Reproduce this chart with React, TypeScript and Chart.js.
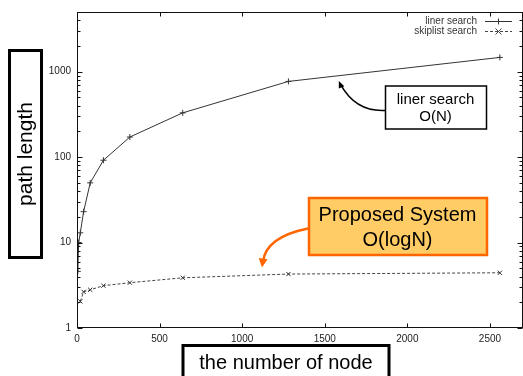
import React, { useEffect, useRef } from "react";
import { Chart, registerables } from "chart.js";

Chart.register(...registerables);

// ---- data ----
const linerNodes = [5, 10, 20, 40, 80, 160, 320, 640, 1280, 2560];
const linerValues = [4.6, 10, 13, 23, 50, 92, 172, 330, 770, 1470];
const skipNodes = [20, 40, 80, 160, 320, 640, 1280, 2560];
const skipValues = [2.05, 2.65, 2.8, 3.13, 3.39, 3.87, 4.28, 4.43];
const seriesLabels = ["liner search", "skiplist search"];
const xTickValues = [0, 500, 1000, 1500, 2000, 2500];
const yDecades = [1, 10, 100, 1000];
const xTitle = "the number of node";
const yTitle = "path length";
const linerNote = ["liner search", "O(N)"];
const proposedNote = ["Proposed System", "O(logN)"];

const FONT = '"Liberation Sans", Arial, Helvetica, sans-serif';

function yTickList(): number[] {
  const out: number[] = [];
  for (const d of yDecades) {
    for (let m = 1; m <= 9; m++) {
      const v = d * m;
      if (v <= 5000) out.push(v);
    }
  }
  return out;
}

function drawMarker(ctx: CanvasRenderingContext2D, x: number, y: number, r: number, rot: boolean) {
  ctx.beginPath();
  if (rot) {
    ctx.moveTo(x - r, y - r);
    ctx.lineTo(x + r, y + r);
    ctx.moveTo(x - r, y + r);
    ctx.lineTo(x + r, y - r);
  } else {
    ctx.moveTo(x - r, y);
    ctx.lineTo(x + r, y);
    ctx.moveTo(x, y - r);
    ctx.lineTo(x, y + r);
  }
  ctx.stroke();
}

function arrowHead(ctx: CanvasRenderingContext2D, tipX: number, tipY: number, fromX: number, fromY: number, len: number, half: number) {
  const ang = Math.atan2(tipY - fromY, tipX - fromX);
  ctx.beginPath();
  ctx.moveTo(tipX, tipY);
  ctx.lineTo(tipX - len * Math.cos(ang) + half * Math.sin(ang), tipY - len * Math.sin(ang) - half * Math.cos(ang));
  ctx.lineTo(tipX - len * Math.cos(ang) - half * Math.sin(ang), tipY - len * Math.sin(ang) + half * Math.cos(ang));
  ctx.closePath();
  ctx.fill();
}

const framePlugin = {
  id: "gnuplotFrame",
  afterDraw(chart: any) {
    const ctx: CanvasRenderingContext2D = chart.ctx;
    const { left, right, top, bottom } = chart.chartArea;
    const xs = chart.scales.x;
    const ys = chart.scales.y;
    ctx.save();
    // frame
    ctx.strokeStyle = "#111";
    ctx.lineWidth = 1;
    const L = Math.round(left) + 0.5;
    const T = Math.round(top) + 0.5;
    const R = Math.round(right) - 0.5;
    const B = Math.round(bottom) - 0.5;
    ctx.strokeRect(L, T, R - L, B - T);
    // inward ticks
    ctx.beginPath();
    for (const v of xTickValues) {
      const px = Math.round(xs.getPixelForValue(v)) + 0.5;
      ctx.moveTo(px, B);
      ctx.lineTo(px, B - 4);
      ctx.moveTo(px, T);
      ctx.lineTo(px, T + 4);
    }
    for (const v of yTickList()) {
      const py = Math.round(ys.getPixelForValue(v)) + 0.5;
      const major = yDecades.includes(v);
      const len = major ? 5 : 3;
      ctx.moveTo(L, py);
      ctx.lineTo(L + len, py);
      ctx.moveTo(R, py);
      ctx.lineTo(R - len, py);
    }
    ctx.stroke();

    // legend (gnuplot style)
    ctx.font = `10px ${FONT}`;
    ctx.textAlign = "right";
    ctx.textBaseline = "middle";
    const legY = [21, 31];
    chart.data.datasets.forEach((ds: any, i: number) => {
      ctx.fillStyle = "#333";
      ctx.fillText(seriesLabels[i], 477, legY[i]);
      ctx.strokeStyle = ds.borderColor;
      ctx.lineWidth = 1;
      ctx.setLineDash(ds.borderDash || []);
      ctx.beginPath();
      ctx.moveTo(485, legY[i] + 0.5);
      ctx.lineTo(512, legY[i] + 0.5);
      ctx.stroke();
      ctx.setLineDash([]);
      drawMarker(ctx, 498.5, legY[i] + 0.5, 3, i === 1);
    });

    // y title box
    ctx.strokeStyle = "#000";
    ctx.lineWidth = 3;
    ctx.strokeRect(9.5, 50.5, 32, 207);
    ctx.save();
    ctx.translate(26, 154);
    ctx.rotate(-Math.PI / 2);
    ctx.fillStyle = "#000";
    ctx.font = `21px ${FONT}`;
    ctx.textAlign = "center";
    ctx.textBaseline = "middle";
    ctx.fillText(yTitle, 0, 0);
    ctx.restore();

    // x title box
    ctx.lineWidth = 3;
    ctx.strokeRect(183, 345.5, 206, 40);
    ctx.fillStyle = "#000";
    ctx.font = `20px ${FONT}`;
    ctx.textAlign = "center";
    ctx.textBaseline = "middle";
    ctx.fillText(xTitle, 286, 363);

    // liner search note
    ctx.lineWidth = 1.5;
    ctx.strokeStyle = "#000";
    ctx.fillStyle = "#fff";
    ctx.fillRect(385.5, 86, 101, 43);
    ctx.strokeRect(385.5, 86, 101, 43);
    ctx.fillStyle = "#000";
    ctx.font = `15px ${FONT}`;
    ctx.fillText(linerNote[0], 435.5, 99.5);
    ctx.fillText(linerNote[1], 435.5, 117);
    // black arrow
    const tip1x = xs.getPixelForValue(1585);
    const tip1y = ys.getPixelForValue(780);
    ctx.lineWidth = 1.5;
    ctx.beginPath();
    ctx.moveTo(385, 110.5);
    ctx.quadraticCurveTo(356, 112, tip1x + 2, tip1y + 4);
    ctx.stroke();
    ctx.fillStyle = "#000";
    arrowHead(ctx, tip1x, tip1y, tip1x + 3, tip1y + 7, 7, 3);

    // proposed system note
    ctx.fillStyle = "#FFCC66";
    ctx.fillRect(309, 198, 178, 57);
    ctx.strokeStyle = "#FF6600";
    ctx.lineWidth = 2.5;
    ctx.strokeRect(309, 198, 178, 57);
    ctx.fillStyle = "#000";
    ctx.font = `20px ${FONT}`;
    ctx.fillText(proposedNote[0], 397.5, 215);
    ctx.fillText(proposedNote[1], 397.5, 240);
    // orange arrow
    const tip2x = xs.getPixelForValue(1120);
    const tip2y = ys.getPixelForValue(5.1);
    ctx.strokeStyle = "#FF6600";
    ctx.lineWidth = 2.5;
    ctx.beginPath();
    ctx.moveTo(308, 228.5);
    ctx.quadraticCurveTo(266, 237, tip2x + 1, tip2y - 6);
    ctx.stroke();
    ctx.fillStyle = "#FF6600";
    arrowHead(ctx, tip2x, tip2y, tip2x + 1, tip2y - 8, 9, 4.5);

    ctx.restore();
  },
};

export default function App() {
  const ref = useRef<HTMLCanvasElement | null>(null);
  useEffect(() => {
    document.body.style.margin = "0";
    const canvas = ref.current;
    if (!canvas) return;
    const chart = new Chart(canvas, {
      type: "line",
      data: {
        datasets: [
          {
            label: seriesLabels[0],
            data: linerNodes.map((x, i) => ({ x, y: linerValues[i] })),
            borderColor: "#333",
            borderWidth: 1,
            pointStyle: "cross",
            pointRadius: 3,
            pointBorderColor: "#333",
            pointBorderWidth: 1,
            tension: 0,
            fill: false,
          },
          {
            label: seriesLabels[1],
            data: skipNodes.map((x, i) => ({ x, y: skipValues[i] })),
            borderColor: "#444",
            borderWidth: 1,
            borderDash: [3, 2],
            pointStyle: "crossRot",
            pointRadius: 3,
            pointBorderColor: "#333",
            pointBorderWidth: 1,
            tension: 0,
            fill: false,
          },
        ],
      },
      options: {
        animation: false,
        responsive: false,
        devicePixelRatio: 1,
        layout: { padding: { left: 0, top: 12, right: 2, bottom: 0 } },
        plugins: { legend: { display: false }, tooltip: { enabled: false } },
        scales: {
          x: {
            type: "linear",
            min: 0,
            max: 2700,
            grid: { display: false, drawTicks: false, tickLength: 0 },
            border: { display: false },
            afterBuildTicks: (s: any) => {
              s.ticks = xTickValues.map((v) => ({ value: v }));
            },
            afterFit: (s: any) => {
              s.height = 48;
            },
            ticks: {
              autoSkip: false,
              maxRotation: 0,
              padding: 5,
              color: "#222",
              font: { family: FONT, size: 10 },
              callback: (v: any) => String(v),
            },
          },
          y: {
            type: "logarithmic",
            min: 1,
            max: 5000,
            grid: { display: false, drawTicks: false, tickLength: 0 },
            border: { display: false },
            afterBuildTicks: (s: any) => {
              s.ticks = yTickList().map((v) => ({ value: v }));
            },
            afterFit: (s: any) => {
              s.width = 77;
            },
            ticks: {
              autoSkip: false,
              padding: 6,
              color: "#222",
              font: { family: FONT, size: 10 },
              callback: (v: any) => (yDecades.includes(Number(v)) ? String(v) : ""),
            },
          },
        },
      },
      plugins: [framePlugin],
    } as any);
    return () => chart.destroy();
  }, []);
  return (
    <div style={{ position: "absolute", left: 0, top: 0, width: 523, height: 376, overflow: "hidden", background: "#fff" }}>
      <canvas ref={ref} width={528} height={376} style={{ display: "block", width: 528, height: 376 }} />
    </div>
  );
}
